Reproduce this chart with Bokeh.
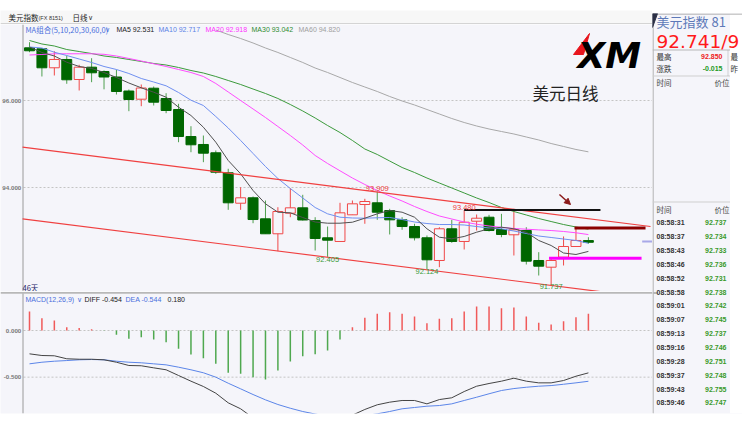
from bokeh.plotting import figure
from bokeh.layouts import row, column
from bokeh.models import Range1d, ColumnDataSource, Arrow, NormalHead
from bokeh.core.properties import value
from bokeh.embed import file_html
from bokeh.resources import INLINE

# ---------------- data ----------------
symbol_name = "美元指数"
symbol_code = "(FX 8151)"
period_name = "日线"
chart_title = "美元日线"
days_label = "46天"

open_ = [97.211, 97.189, 96.752, 96.943, 96.483, 96.766, 96.667, 96.540, 96.218, 96.030,
         96.283, 96.046, 95.793, 95.172, 94.989, 94.798, 94.338, 93.639, 93.763, 93.280,
         92.936, 93.409, 93.533, 93.241, 92.844, 92.759, 93.372, 93.609, 93.648, 93.471,
         93.257, 93.103, 92.844, 92.322, 93.051, 92.759, 93.225, 93.317, 93.034, 92.913,
         93.011, 92.322, 92.168, 92.398, 92.644, 92.780]
close = [97.143, 96.752, 96.943, 96.476, 96.766, 96.637, 96.540, 96.207, 96.023, 96.287,
         95.961, 95.770, 95.172, 94.982, 94.789, 94.352, 93.648, 93.763, 93.264, 92.936,
         93.448, 93.533, 93.253, 92.828, 92.789, 93.418, 93.625, 93.678, 93.432, 93.257,
         93.103, 92.844, 92.338, 93.051, 92.759, 93.202, 93.294, 93.011, 92.920, 93.028,
         92.306, 92.191, 92.322, 92.644, 92.782, 92.741]
high = [97.340, 97.195, 97.133, 97.034, 96.821, 96.972, 96.690, 96.706, 96.253, 96.368,
        96.322, 96.168, 95.924, 95.409, 95.195, 94.851, 94.430, 94.007, 93.793, 93.701,
        93.547, 93.984, 93.832, 93.317, 93.103, 93.648, 93.701, 93.740, 93.909, 93.510,
        93.317, 93.166, 92.897, 93.087, 93.257, 93.480, 93.379, 93.372, 93.395, 93.510,
        93.087, 92.513, 92.398, 92.874, 93.074, 92.857]
low = [97.110, 96.552, 96.575, 96.384, 96.230, 96.421, 96.257, 96.138, 95.754, 95.869,
       95.885, 95.708, 95.041, 94.811, 94.582, 94.315, 93.487, 93.487, 93.179, 92.936,
       92.536, 93.317, 93.241, 92.552, 92.405, 92.759, 93.372, 93.166, 93.257, 92.920,
       93.028, 92.782, 92.124, 92.168, 92.729, 92.575, 93.011, 92.989, 92.857, 92.437,
       92.230, 91.977, 91.737, 92.207, 92.644, 92.706]

ma5 = [97.230, 97.104, 97.023, 96.880, 96.782, 96.736, 96.644, 96.529, 96.402, 96.292,
       96.191, 96.076, 95.846, 95.655, 95.386, 95.041, 94.621, 94.315, 93.931, 93.625,
       93.432, 93.418, 93.310, 93.207, 93.179, 93.179, 93.202, 93.294, 93.395, 93.471,
       93.432, 93.317, 93.051, 92.857, 92.821, 92.874, 92.972, 93.051, 93.087, 93.051,
       92.972, 92.782, 92.667, 92.494, 92.460, 92.531]
ma10 = [97.230, 97.207, 97.110, 97.034, 96.954, 96.874, 96.782, 96.713, 96.621, 96.506,
        96.425, 96.338, 96.184, 96.007, 95.885, 95.632, 95.368, 95.081, 94.782, 94.483,
        94.207, 93.977, 93.759, 93.540, 93.395, 93.317, 93.299, 93.294, 93.304, 93.310,
        93.264, 93.207, 93.172, 93.149, 93.149, 93.138, 93.103, 93.069, 93.051, 93.000,
        92.943, 92.885, 92.851, 92.816, 92.782, 92.717]
ma20 = [97.046, 97.058, 97.074, 97.074, 97.074, 97.074, 97.062, 97.023, 96.966, 96.908,
        96.844, 96.782, 96.713, 96.644, 96.552, 96.391, 96.196, 96.000, 95.805, 95.609,
        95.402, 95.195, 94.977, 94.736, 94.552, 94.384, 94.218, 94.069, 93.931, 93.805,
        93.690, 93.563, 93.448, 93.345, 93.276, 93.207, 93.156, 93.115, 93.085, 93.058,
        93.041, 93.025, 93.011, 92.989, 92.959, 92.918]
ma30 = [97.379, 97.299, 97.253, 97.172, 97.126, 97.080, 97.023, 96.989, 96.943, 96.897,
        96.851, 96.816, 96.759, 96.690, 96.632, 96.552, 96.460, 96.368, 96.264, 96.161,
        96.046, 95.908, 95.759, 95.598, 95.425, 95.264, 95.081, 94.885, 94.759, 94.609,
        94.460, 94.345, 94.218, 94.103, 93.989, 93.874, 93.759, 93.655, 93.540, 93.448,
        93.368, 93.287, 93.218, 93.149, 93.092, 93.042]
ma60_first_day = 15
ma60 = [97.621, 97.517, 97.425, 97.322, 97.207, 97.104, 96.989, 96.874, 96.747, 96.644,
        96.529, 96.414, 96.310, 96.207, 96.092, 95.989, 95.897, 95.793, 95.690, 95.586,
        95.494, 95.414, 95.345, 95.287, 95.230, 95.161, 95.092, 95.011, 94.943, 94.874,
        94.820]

macd_hist = [0.204, 0.132, 0.107, 0.036, 0.028, 0.014, -0.004, -0.046, -0.089, -0.071,
             -0.096, -0.125, -0.196, -0.257, -0.296, -0.357, -0.454, -0.464, -0.500, -0.525,
             -0.429, -0.332, -0.275, -0.254, -0.214, -0.096, 0.036, 0.136, 0.179, 0.196,
             0.179, 0.150, 0.079, 0.125, 0.132, 0.204, 0.257, 0.257, 0.239, 0.246,
             0.150, 0.082, 0.064, 0.100, 0.143, 0.180]
macd_diff = [-0.250, -0.268, -0.271, -0.303, -0.308, -0.308, -0.314, -0.340, -0.375, -0.378,
             -0.400, -0.421, -0.482, -0.543, -0.600, -0.672, -0.775, -0.839, -0.936, -1.005,
             -1.007, -0.999, -1.005, -1.022, -1.025, -0.976, -0.907, -0.846, -0.796, -0.768,
             -0.750, -0.750, -0.786, -0.740, -0.721, -0.654, -0.597, -0.568, -0.543, -0.511,
             -0.543, -0.561, -0.561, -0.536, -0.490, -0.454]
macd_dea = [-0.357, -0.340, -0.329, -0.322, -0.314, -0.311, -0.314, -0.329, -0.340, -0.346,
            -0.357, -0.368, -0.393, -0.421, -0.453, -0.500, -0.565, -0.625, -0.686, -0.743,
            -0.793, -0.833, -0.868, -0.895, -0.918, -0.928, -0.925, -0.912, -0.893, -0.868,
            -0.839, -0.825, -0.811, -0.804, -0.786, -0.750, -0.715, -0.678, -0.643, -0.622,
            -0.608, -0.597, -0.590, -0.576, -0.561, -0.544]

price_ticks = [96.0, 94.0]
macd_ticks = [0.0, -0.5]

# drawn objects on the chart (day index, price)
channel_upper_x = [-0.56, 50.0]
channel_upper_y = [94.926, 93.103]
channel_lower_x = [-0.56, 48.0]
channel_lower_y = [93.280, 91.533]
hline_price = [93.480, 93.069, 92.375, 92.759]
hline_from = [35.0, 43.88, 41.83, 49.33]
hline_to = [45.97, 49.6, 49.28, 50.3]
arrow_x = [42.67, 43.56]
arrow_y = [93.839, 93.609]
marked_highs = [28, 35]
marked_lows = [24, 32, 42]

# quote panel
quote_high = 92.850
quote_change = -0.015
tick_times = ["08:58:31", "08:58:37", "08:58:43", "08:58:46", "08:58:52", "08:58:58",
              "08:59:01", "08:59:07", "08:59:13", "08:59:16", "08:59:28", "08:59:37",
              "08:59:43", "08:59:46"]
tick_prices = [92.737, 92.734, 92.733, 92.736, 92.731, 92.738, 92.742, 92.745, 92.737,
               92.746, 92.751, 92.748, 92.755, 92.747]

# ---------------- styling / layout ----------------
BG = "#f5f5fa"
CJK = "Noto Sans CJK SC"
LAT = "Liberation Sans"
UP = "#f04848"
DOWN = "#006600"
DOWN_WICK = "#4f9f4f"

# pixel geometry of the reference (used only to set view ranges / label spots)
X_FIRST, X_STEP = 29.0, 12.42
Y_94, PX_PER_PT = 187.0, 43.5
Y_M0, PX_PER_M = 330.0, 93.33


def mx(X):
    return (X - X_FIRST) / X_STEP


def my(Y):
    return 94.0 - (Y - Y_94) / PX_PER_PT


def mv(Y):
    return -(Y - Y_M0) / PX_PER_M


def base_fig(w, h, xr, yr, bt=0, bb=0, bg=BG):
    p = figure(width=w, height=h, x_range=xr, y_range=yr, output_backend="svg",
               toolbar_location=None, x_axis_location=None, y_axis_location=None,
               min_border=0, min_border_top=bt, min_border_bottom=bb,
               min_border_left=0, min_border_right=0,
               background_fill_color=bg, border_fill_color="white",
               outline_line_color=None)
    p.grid.visible = False
    return p


def put(p, x, y, s, color, size, font=LAT, align="left", baseline="middle", style="normal"):
    p.text(x=[x], y=[y], text=[s], text_color=color, text_font=value(font),
           text_font_size=f"{size}px", text_align=align, text_baseline=baseline,
           text_font_style=style)


n = len(close)
days = list(range(n))

# ---------------- header strip (y 0..24) ----------------
fh = base_fig(652, 24, Range1d(0, 652), Range1d(24, 10), bt=10, bg="#f7f7f7")
fh.segment(x0=[0], y0=[23.5], x1=[652], y1=[23.5], line_color="#b0b0b0", line_width=1)
put(fh, 8, 17, symbol_name, "#222222", 7.5, font=CJK)
put(fh, 38, 17.5, symbol_code, "#333333", 5.5)
put(fh, 72, 17, period_name, "#222222", 7.5, font=CJK)
put(fh, 87.5, 17, "∨", "#333333", 6.5)

# ---------------- main price pane (y 24..291) ----------------
fm = base_fig(652, 267, Range1d(mx(0), mx(652)), Range1d(my(291), my(24)))
x_axis_pos = mx(22.5)
fm.segment(x0=[mx(23)] * len(price_ticks), y0=price_ticks, x1=[mx(652)] * len(price_ticks),
           y1=price_ticks, line_color="#c4c4c4", line_dash="2 2", line_width=1)
fm.segment(x0=[x_axis_pos], y0=[my(291)], x1=[x_axis_pos], y1=[my(24)],
           line_color="#9a9a9a", line_width=1)
fm.text(x=[mx(20.8)] * len(price_ticks), y=price_ticks, text=[f"{t:.3f}" for t in price_ticks],
        text_color="#777777", text_font=value(LAT), text_font_size="6.2px",
        text_align="right", text_baseline="middle", text_font_style="bold")

inc = [i for i in days if close[i] >= open_[i]]
dec = [i for i in days if close[i] < open_[i]]


def cds(idx):
    return ColumnDataSource(dict(
        x=idx, hi=[high[i] for i in idx], lo=[low[i] for i in idx],
        top=[max(open_[i], close[i]) for i in idx],
        bot=[min(open_[i], close[i]) for i in idx]))


s_inc, s_dec = cds(inc), cds(dec)
fm.segment(x0="x", y0="lo", x1="x", y1="hi", source=s_dec, line_color=DOWN_WICK, line_width=1)
fm.segment(x0="x", y0="lo", x1="x", y1="hi", source=s_inc, line_color=UP, line_width=1)
fm.vbar(x="x", width=0.8, top="top", bottom="bot", source=s_dec,
        fill_color=DOWN, line_color=DOWN, line_width=1)
fm.vbar(x="x", width=0.8, top="top", bottom="bot", source=s_inc,
        fill_color=BG, line_color=UP, line_width=1)

# moving averages
fm.line(list(range(ma60_first_day, ma60_first_day + len(ma60))), ma60,
        line_color="#a8a8a8", line_width=1)
fm.line(days, ma30, line_color="#3c9a3c", line_width=1)
fm.line(days, ma20, line_color="#ff4cff", line_width=1)
fm.line(days, ma10, line_color="#6f8ff0", line_width=1)
fm.line(days, ma5, line_color="#505050", line_width=1)

# channel lines
fm.line(channel_upper_x, channel_upper_y, line_color="#f04040", line_width=1.2)
fm.line(channel_lower_x, channel_lower_y, line_color="#f04040", line_width=1.2)

# horizontal drawn lines
hl_colors = ["#111111", "#8b0000", "#ff00ff", "#a8a8e8"]
hl_widths = [2, 3, 3, 2]
for k in range(len(hline_price)):
    fm.segment(x0=[hline_from[k]], y0=[hline_price[k]], x1=[hline_to[k]], y1=[hline_price[k]],
               line_color=hl_colors[k], line_width=hl_widths[k])

fm.add_layout(Arrow(end=NormalHead(size=6, line_color="#8b1a1a", fill_color="#8b1a1a"),
                    x_start=arrow_x[0], y_start=arrow_y[0], x_end=arrow_x[1], y_end=arrow_y[1],
                    line_color="#8b1a1a", line_width=1.5))

# extreme labels (low labels kept inside the pane)
fm.text(x=marked_highs, y=[high[i] for i in marked_highs],
        text=[f"{high[i]:.3f}" for i in marked_highs], text_color="#ee3b3b",
        text_font=value(LAT), text_font_size="7.5px", text_align="center",
        text_baseline="bottom")
pane_floor = my(283)
fm.text(x=marked_lows, y=[max(low[i], pane_floor) for i in marked_lows],
        text=[f"{low[i]:.3f}" for i in marked_lows], text_color="#3a9a3a",
        text_font=value(LAT), text_font_size="7.5px", text_align="center",
        text_baseline="top")

# legend row
put(fm, mx(25), my(28.5), "MA组合(5,10,20,30,60,0)", "#4a6fdc", 7.5, font=CJK)
put(fm, mx(104), my(28.5), "∨", "#4a6fdc", 6.5)
ma_names = ["MA5", "MA10", "MA20", "MA30", "MA60"]
ma_last = [ma5[-1], ma10[-1], ma20[-1], ma30[-1], ma60[-1]]
ma_colors = ["#222222", "#5a82e6", "#ff33ff", "#2e8b2e", "#a0a0a0"]
ma_xpos = [116, 158, 205, 251, 298]
for nm, v, c, xp in zip(ma_names, ma_last, ma_colors, ma_xpos):
    put(fm, mx(xp), my(28.5), f"{nm} {v:.3f}", c, 7)

put(fm, mx(22), my(286.5), days_label, "#222266", 7.5, font=CJK)
put(fm, mx(532), my(92), chart_title, "#222222", 16.5, font=CJK)

# XM logo
fm.patch([mx(573), mx(583), mx(589)], [my(54), my(54), my(33)], fill_color="#e8141c",
         line_color="#e8141c")
put(fm, mx(577), my(54.5), "XM", "#000000", 36, font="DejaVu Sans", align="left",
    baseline="alphabetic", style="bold italic")

# ---------------- MACD pane (y 291..425) ----------------
fd = base_fig(652, 134, Range1d(mx(0), mx(652)), Range1d(mv(413), mv(291)), bb=12)
fd.segment(x0=[mx(0)], y0=[mv(292.3)], x1=[mx(652)], y1=[mv(292.3)],
           line_color="#b8b8b8", line_width=1.8)
fd.segment(x0=[mx(23)] * len(macd_ticks), y0=macd_ticks, x1=[mx(652)] * len(macd_ticks),
           y1=macd_ticks, line_color="#c4c4c4", line_dash="2 2", line_width=1)
fd.segment(x0=[x_axis_pos], y0=[mv(413)], x1=[x_axis_pos], y1=[mv(293)],
           line_color="#9a9a9a", line_width=1)
fd.text(x=[mx(20.8)] * len(macd_ticks), y=macd_ticks, text=[f"{t:.3f}" for t in macd_ticks],
        text_color="#777777", text_font=value(LAT), text_font_size="6.2px",
        text_align="right", text_baseline="middle", text_font_style="bold")

pos = [i for i in days if macd_hist[i] >= 0]
neg = [i for i in days if macd_hist[i] < 0]
fd.segment(x0=pos, y0=[0] * len(pos), x1=pos, y1=[macd_hist[i] for i in pos],
           line_color="#f05a5a", line_width=1.5)
fd.segment(x0=neg, y0=[0] * len(neg), x1=neg, y1=[macd_hist[i] for i in neg],
           line_color="#4fa84f", line_width=1.5)
fd.line(days, macd_dea, line_color="#5b85e8", line_width=1)
fd.line(days, macd_diff, line_color="#444444", line_width=1)

put(fd, mx(25), mv(299), "MACD(12,26,9)", "#4a6fdc", 7)
put(fd, mx(76.5), mv(299), "∨", "#4a6fdc", 6.5)
put(fd, mx(84), mv(299), f"DIFF {macd_diff[-1]:.3f}", "#222222", 7)
put(fd, mx(125), mv(299), f"DEA {macd_dea[-1]:.3f}", "#4a6fdc", 7)
put(fd, mx(167), mv(299), f"{macd_hist[-1]:.3f}", "#222222", 7)

left = column(fh, fm, fd, spacing=0)

# ---------------- quote panel (x 652..742) ----------------
fr = base_fig(90, 425, Range1d(652, 742), Range1d(413, 13), bt=13, bb=12)
fr.quad(left=[729.5], right=[742], bottom=[413], top=[13], fill_color="white", line_color=None)
fr.segment(x0=[652.5], y0=[13], x1=[652.5], y1=[413], line_color="#9a9a9a", line_width=1)
fr.segment(x0=[652, 652, 652, 652], y0=[13.5, 49.5, 75.5, 201.5],
           x1=[742, 729.5, 729.5, 729.5], y1=[13.5, 49.5, 75.5, 201.5],
           line_color=["#9a9a9a", "#b8b8b8", "#cfcfcf", "#cfcfcf"], line_width=1)
fr.segment(x0=[727.5], y0=[50], x1=[727.5], y1=[75], line_color="#aaaaaa",
           line_dash="1 1", line_width=1)
fr.patch([652, 657, 652], [13, 13, 27], fill_color="#2b2f45", line_color="#2b2f45")
fr.segment(x0=[652], y0=[292.5], x1=[657], y1=[292.5], line_color="#b8b8b8", line_width=1.8)

put(fr, 656, 20.5, f"{symbol_name} 81", "#5d79b8", 13, font=CJK)
put(fr, 656, 40.5, f"{close[-1]:.3f}/9", "#ff1a1a", 18.5, font="DejaVu Sans")
put(fr, 656, 55.5, "最高", "#333333", 7.5, font=CJK)
put(fr, 722, 55.5, f"{quote_high:.3f}", "#ee2222", 7, align="right", style="bold")
put(fr, 730, 55.5, "最", "#333333", 7.5, font=CJK)
put(fr, 656, 67.5, "涨跌", "#333333", 7.5, font=CJK)
put(fr, 722, 67.5, f"{quote_change:.3f}", "#229922", 7, align="right", style="bold")
put(fr, 730, 67.5, "昨", "#333333", 7.5, font=CJK)
for yy in (81.5, 209):
    put(fr, 656, yy, "时间", "#444444", 7.5, font=CJK)
    put(fr, 729, yy, "价位", "#444444", 7.5, font=CJK, align="right")

row_y = [222.3 + 13.85 * k for k in range(len(tick_times))]
fr.text(x=[656] * len(tick_times), y=row_y, text=tick_times, text_color="#333333",
        text_font=value(LAT), text_font_size="7px", text_align="left",
        text_baseline="middle", text_font_style="bold")
fr.text(x=[726] * len(tick_prices), y=row_y, text=[f"{v:.3f}" for v in tick_prices],
        text_color="#3a9a2a", text_font=value(LAT), text_font_size="7px",
        text_align="right", text_baseline="middle", text_font_style="bold")

root = row(left, fr, spacing=0)

open("out.html", "w").write(file_html(root, INLINE))
